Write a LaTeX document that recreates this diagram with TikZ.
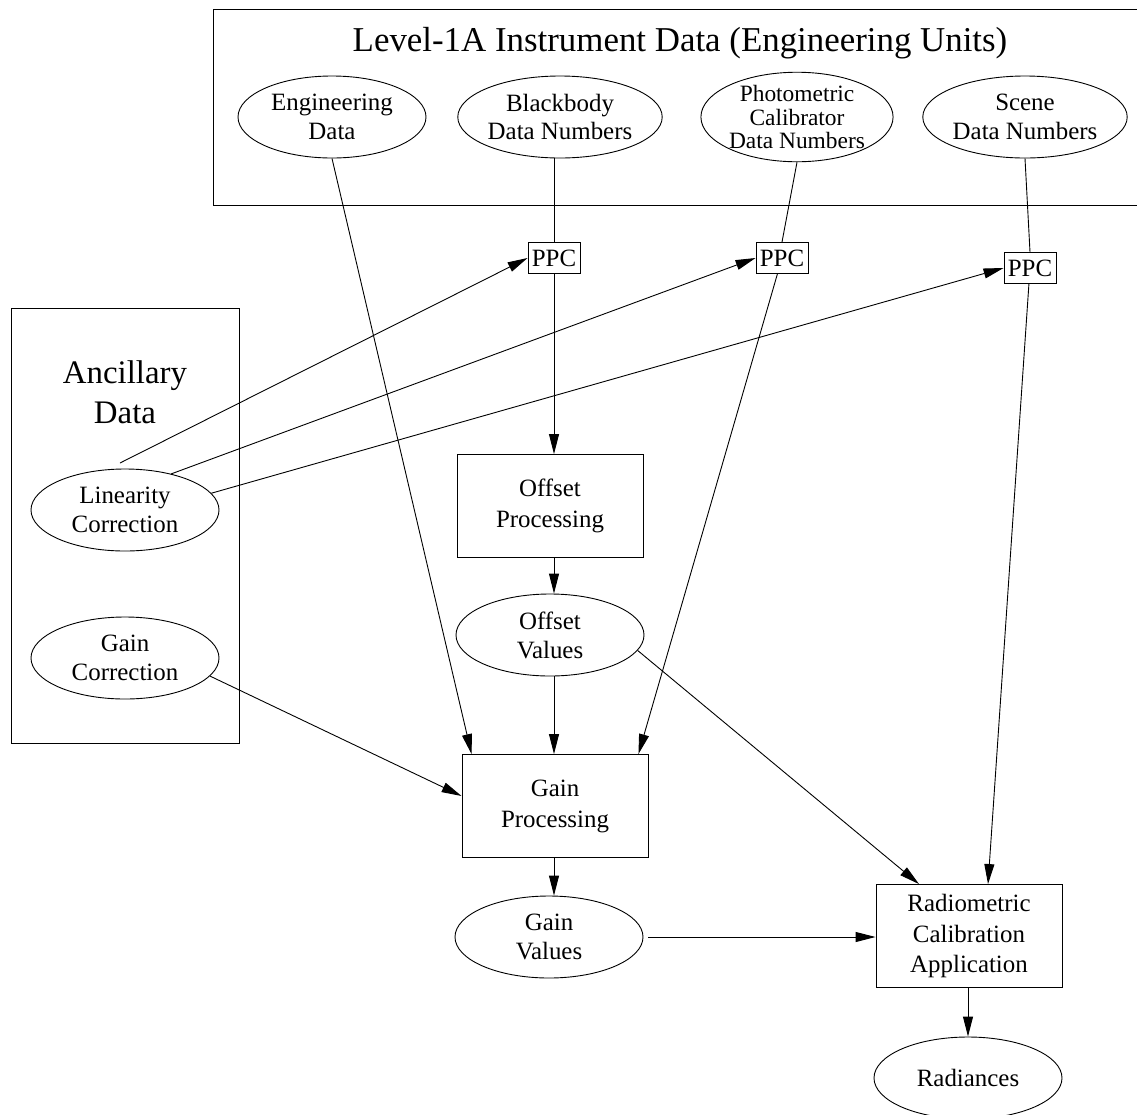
\documentclass[tikz,border=0pt]{standalone}
\usepackage{fontspec}
\setmainfont{Liberation Serif}
\usetikzlibrary{shapes.geometric,arrows.meta,calc}
\begin{document}
\begin{tikzpicture}[x=1bp,y=-1bp,
  every node/.style={font=\fontsize{25}{29}\selectfont},
  ell/.style={ellipse, draw, line width=0.9bp, minimum width=188bp, minimum height=82bp, inner sep=0pt, align=center},
  proc/.style={rectangle, draw, line width=0.9bp, minimum width=186bp, minimum height=103bp, inner sep=0pt, align=center, font=\fontsize{25}{31}\selectfont},
  ppcbox/.style={rectangle, draw, line width=0.9bp, minimum width=52bp, minimum height=31bp, inner sep=0pt},
  conn/.style={line width=0.9bp},
  arr/.style={line width=0.9bp, -{Triangle[length=20bp,width=10bp]}},
  grp/.style={line width=1bp}
]
\useasboundingbox (0,0) rectangle (1137,1115);

% group frames
\draw[grp] (1137,9) -- (213,9) -- (213,205) -- (1137,205);
\draw[grp] (11,308) rectangle (239,743);

\node[font=\fontsize{35}{40}\selectfont] (title) at (680,43) {Level-1A Instrument Data (Engineering Units)};
\node[font=\fontsize{33}{40}\selectfont, align=center] (anc) at (125,392) {Ancillary\\Data};

% top ellipses
\node[ell] (eng) at (332,117) {Engineering\\Data};
\node[ell] (bb) at (560,117) {Blackbody\\Data Numbers};
\node[ell, font=\fontsize{23.5}{23.5}\selectfont] (pc) at (797,117) {Photometric\\Calibrator\\Data Numbers};
\node[ell] (sc) at (1025,117) {Scene\\Data Numbers};

% PPC boxes
\node[ppcbox] (ppc1) at (554,258) {PPC};
\node[ppcbox] (ppc2) at (782,258) {PPC};
\node[ppcbox] (ppc3) at (1030,268) {PPC};

% ancillary ellipses
\node[ell] (lin) at (125,510) {Linearity\\Correction};
\node[ell] (gc) at (125,658) {Gain\\Correction};
\coordinate (lin1) at (120,463);

% processing
\node[proc] (op) at (550,506) {Offset\\Processing};
\node[ell] (ov) at (550,635) {Offset\\Values};
\node[proc] (gp) at (555,806) {Gain\\Processing};
\node[ell] (gv) at (549,937) {Gain\\Values};
\node[proc] (rca) at (969,936) {Radiometric\\Calibration\\Application};
\node[ell] (rad) at (968,1078) {Radiances};

% connectors
\draw[conn] (ppc1 |- bb.south) -- (ppc1.north);
\draw[conn] (pc.south) -- (ppc2.north);
\draw[conn] (sc.south) -- (ppc3.north);

\draw[arr] (lin1) -- (ppc1.west);
\draw[arr] (lin.38) -- (ppc2.west);
\draw[arr] (lin.11) -- (ppc3.west);

\draw[arr] (ppc1.south) -- (ppc1.south |- op.north);
\draw[arr] (ppc1 |- op.south) -- (ppc1 |- ov.north);
\draw[arr] (ppc1 |- ov.south) -- (ppc1 |- gp.north);
\draw[arr] (ppc1 |- gp.south) -- (ppc1 |- gv.north);

\draw[arr] (eng.south) -- ([xshift=10bp]gp.north west);
\draw[arr] (ppc2) -- ([xshift=-10bp]gp.north east);
\draw[arr] (gc.-12) -- ([yshift=10bp]gp.west);

\draw[arr] (ppc3) -- ([xshift=19bp]rca.north);
\draw[arr] (ov.-10) -- ([xshift=-50bp]rca.north);
\draw[arr, shorten <=5bp] (gv.east) -- (gv.east -| rca.west);
\draw[arr] (rca.south -| rad) -- (rad.north);
\end{tikzpicture}
\end{document}
